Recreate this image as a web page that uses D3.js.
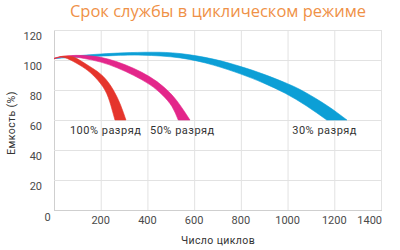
<!DOCTYPE html>
<html><head><meta charset="utf-8">
<script src="https://cdn.jsdelivr.net/npm/d3@7"></script>
<style>
html,body{margin:0;padding:0;background:#fff;}
svg{display:block;}
</style></head>
<body>
<svg id="chart" width="400" height="250"></svg>
<script>
const title = "Срок службы в циклическом режиме";
const xTitle = "Число циклов";
const yTitle = "Емкость (%)";
const xTicks = [200, 400, 600, 800, 1000, 1200, 1400];
const yTicks = [20, 40, 60, 80, 100, 120];
const seriesNames = ["30% разряд", "50% разряд", "100% разряд"];
const seriesColors = ["#0c9fd6", "#e3268a", "#e5352c"];

// band edges: [cycles, capacity %]
const blueUpper = [[0,101],[100,102.8],[200,104],[300,104.8],[420,105.2],[540,104.3],[682,100.6],[800,95.6],[896,90.6],[1000,84.2],[1075,78.5],[1170,69.5],[1254,60]];
const blueLower = [[0,101],[100,101.9],[250,102.9],[380,103.2],[540,101.4],[682,96.6],[800,90.6],[896,84.7],[990,77.8],[1080,69.5],[1168,60]];
const magentaUpper = [[0,101],[60,102.8],[130,103],[200,101.8],[270,98.8],[340,94.5],[410,88.8],[470,82],[525,73],[582,60]];
const magentaLower = [[0,101],[60,102.3],[130,101],[200,98.6],[270,94.8],[340,89.8],[410,83.6],[465,76.5],[505,69],[532,60]];
const redUpper = [[0,101],[40,102.6],[80,102.1],[111,99.8],[160,95],[211,89],[254,80],[285,70],[308,60]];
const redLower = [[0,101],[25,102],[50,101.4],[83,99],[133,94.3],[176,88.5],[218,80],[243,70],[261,60]];
const bands = [[blueUpper, blueLower], [magentaUpper, magentaLower], [redUpper, redLower]];
const labelPos = [[1020, 53], [411, 53], [68, 53]]; // label start in data units [cycles, %]

const svg = d3.select("#chart");
const m = {l:54, r:19, t:30, b:40};
const W = 400, H = 250;
const x = d3.scaleLinear().domain([0,1400]).range([m.l, W-m.r]);
const y = d3.scaleLinear().domain([0,120]).range([H-m.b, m.t]);

// title
svg.append("text").attr("x", 218).attr("y", 17).attr("text-anchor","middle")
  .attr("font-family","'Open Sans', sans-serif").attr("font-size", 16.5)
  .attr("fill","#ef9147").text(title);

// grid
const g = svg.append("g");
g.selectAll("line.v").data([0, ...xTicks]).join("line")
  .attr("x1", d=>x(d)+0.5).attr("x2", d=>x(d)+0.5)
  .attr("y1", y(0)).attr("y2", y(120))
  .attr("stroke", d=> d===0 ? "#cfcfcf" : "#e2e2e2").attr("stroke-width",1);
g.selectAll("line.h").data([0, ...yTicks]).join("line")
  .attr("x1", x(0)).attr("x2", x(1400)+1)
  .attr("y1", d=>y(d)+0.5).attr("y2", d=>y(d)+0.5)
  .attr("stroke", d=> d===0 ? "#cfcfcf" : "#e2e2e2").attr("stroke-width",1);

// bands
const line = d3.line().x(d=>x(d[0])).y(d=>y(d[1])).curve(d3.curveNatural);
bands.forEach((b, i) => {
  const up = line(b[0]);
  const lo = line(b[1].slice().reverse());
  svg.append("path").attr("d", up + "L" + lo.slice(1) + "Z")
    .attr("fill", seriesColors[i]).attr("stroke", seriesColors[i]).attr("stroke-width", 0.6);
});

const tf = "Roboto, sans-serif";
// y tick labels
svg.selectAll("text.yt").data(yTicks).join("text")
  .attr("x", 42).attr("y", d=>y(d)+6).attr("dy","0.35em")
  .attr("text-anchor","end").attr("font-family",tf).attr("font-size",11).attr("fill","#4a4a4a")
  .text(d=>d);
// zero label
svg.append("text").attr("x", 47.5).attr("y", 217).attr("dy","0.35em")
  .attr("text-anchor","middle").attr("font-family",tf).attr("font-size",11).attr("fill","#4a4a4a").text(0);
// x tick labels
svg.selectAll("text.xt").data(xTicks).join("text")
  .attr("x", (d,i)=> i===xTicks.length-1 ? x(d)+1 : x(d)).attr("y", 220).attr("dy","0.35em")
  .attr("text-anchor", (d,i)=> i===xTicks.length-1 ? "end" : "middle")
  .attr("font-family",tf).attr("font-size",11).attr("fill","#4a4a4a").text(d=>d);

// series labels
seriesNames.forEach((n,i)=>{
  svg.append("text").attr("x", x(labelPos[i][0])).attr("y", y(labelPos[i][1]))
    .attr("dy","0.35em").attr("text-anchor","start").attr("letter-spacing", 0.5)
    .attr("font-family",tf).attr("font-size",11).attr("fill","#333").text(n);
});

// axis titles
svg.append("text").attr("x", 218).attr("y", 240).attr("dy","0.35em").attr("text-anchor","middle")
  .attr("letter-spacing", 0.4)
  .attr("font-family",tf).attr("font-size",10.5).attr("fill","#333").text(xTitle);
svg.append("text").attr("transform","translate(11,123) rotate(-90)").attr("dy","0.35em")
  .attr("letter-spacing", 0.4)
  .attr("text-anchor","middle").attr("font-family",tf).attr("font-size",10.5).attr("fill","#333").text(yTitle);
</script>
</body></html>
